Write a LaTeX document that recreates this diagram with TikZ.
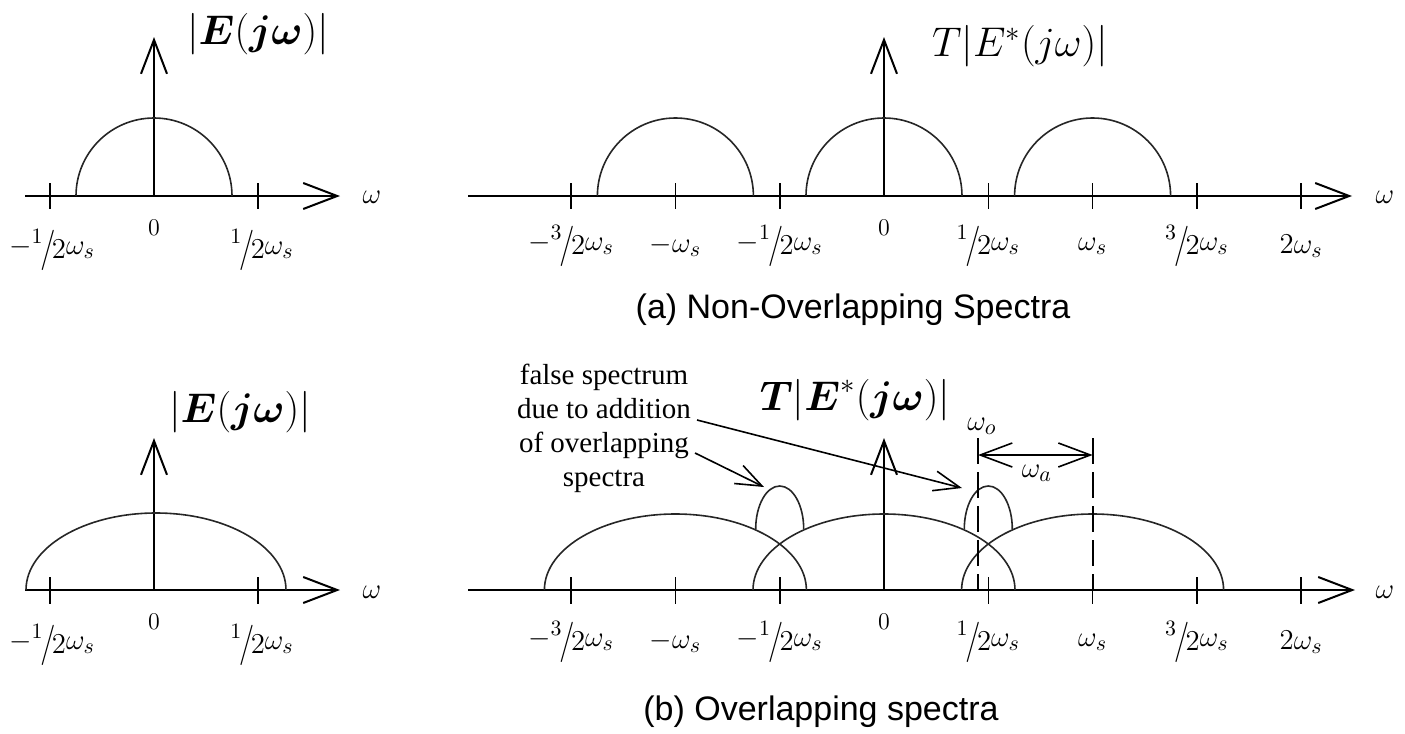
\documentclass[tikz,border=0pt]{standalone}
\usepackage{amsmath}
\usepackage{graphicx}
\usepackage{fontspec}
\setmainfont{Liberation Serif}
\newfontfamily\capfont{Liberation Sans}
\usetikzlibrary{arrows.meta}
% slashed half fraction as used on the axes
\newcommand{\hfr}[2]{\raisebox{0.75ex}{$\scriptstyle #1$}\kern-0.08em\raisebox{-0.45ex}{\scalebox{1.1}[1.4]{$/$}}\kern-0.12em\raisebox{-0.3ex}{$#2$}}
\begin{document}
\begin{tikzpicture}[x=0.5pt, y=-0.5pt,
    axis/.style={line width=1pt, -{Straight Barb[length=17pt, width=13pt, line width=1pt]}},
    spec/.style={line width=0.8pt, black!85},
    tick/.style={line width=0.8pt},
    lbl/.style={font=\fontsize{15}{17}\selectfont, inner sep=1pt},
    zero/.style={font=\fontsize{12}{14}\selectfont, inner sep=1pt},
    ttl/.style={font=\fontsize{20}{24}\selectfont, inner sep=1pt},
    captxt/.style={font=\capfont\fontsize{17}{20}\selectfont},
    note/.style={font=\fontsize{14.5}{17}\selectfont, align=center, inner sep=1pt},
    pointer/.style={line width=0.8pt, -{Straight Barb[length=13pt, width=10pt, line width=0.8pt]}},
    guide/.style={line width=0.9pt, dash pattern=on 13pt off 4pt}]
    \useasboundingbox (0,0) rectangle (1405,734);
    % (a) top left: |E(jw)|
    \coordinate (o1) at (154,196);
    \coordinate (x1a) at (25,196);
    \coordinate (x1b) at (340,196);
    \coordinate (y1) at (154,37);
    \draw [axis] (x1a) -- (x1b);
    \draw [axis] (o1) -- (y1);
    \foreach \x in {50,258}
        \draw [tick] (\x,183) -- (\x,209);
    \draw [spec] (76,196) arc[start angle=180, end angle=0, radius=39pt];
    \node (e1) [ttl] at (258,34) {$|\boldsymbol{E}(\boldsymbol{j\omega})|$};
    \node (w1) [lbl] at (372,197) {$\omega$};
    \node (z1) [zero] at (154,228) {$0$};
    \node (m1) [lbl] at (52,250) {$-\hfr12\omega_s$};
    \node (p1) [lbl] at (262,250) {$\hfr12\omega_s$};
    % (a) top right: T|E*(jw)|
    \coordinate (o2) at (884,196);
    \coordinate (x2a) at (468,196);
    \coordinate (x2b) at (1352,196);
    \coordinate (y2) at (884,37);
    \draw [axis] (x2a) -- (x2b);
    \draw [axis] (o2) -- (y2);
    \foreach \k in {-3,-2,-1,1,2,3,4}
        \draw [tick] ({884+104.3*(\k)},183) -- ({884+104.3*(\k)},209);
    \foreach \k in {-2,0,2}
        \draw [spec] ({884+104.3*(\k)-78},196) arc[start angle=180, end angle=0, radius=39pt];
    \node (e2) [ttl, font=\fontsize{22}{26}\selectfont] at (1020,46) {$T|E^{*}(j\omega)|$};
    \node (w2) [lbl] at (1385,197) {$\omega$};
    \node (z2) [zero] at (884,228) {$0$};
    \foreach \k/\t [count=\n] in {-3/{-\hfr32\omega_s}, -2/{-\omega_s}, -1/{-\hfr12\omega_s}, 1/{\hfr12\omega_s}, 2/{\omega_s}, 3/{\hfr32\omega_s}, 4/{2\omega_s}}
        \node (ta\n) [lbl] at ({884+104.3*(\k)},246) {$\t$};
    \node (capa) [captxt] at (853,310) {(a) Non-Overlapping Spectra};
    % (b) bottom left: |E(jw)|
    \coordinate (o3) at (154,590);
    \coordinate (x3a) at (25,590);
    \coordinate (x3b) at (340,590);
    \coordinate (y3) at (154,438);
    \draw [axis] (x3a) -- (x3b);
    \draw [axis] (o3) -- (y3);
    \foreach \x in {50,258}
        \draw [tick] (\x,577) -- (\x,604);
    \draw [spec] (26,590) arc[start angle=180, end angle=0, x radius=65pt, y radius=38.5pt];
    \node (e3) [ttl] at (240,412) {$|\boldsymbol{E}(\boldsymbol{j\omega})|$};
    \node (w3) [lbl] at (372,592) {$\omega$};
    \node (z3) [zero] at (154,622) {$0$};
    \node (m3) [lbl] at (52,645) {$-\hfr12\omega_s$};
    \node (p3) [lbl] at (262,645) {$\hfr12\omega_s$};
    % (b) bottom right: overlapping copies
    \coordinate (o4) at (884,590);
    \coordinate (x4a) at (468,590);
    \coordinate (x4b) at (1355,590);
    \coordinate (y4) at (884,438);
    \draw [axis] (x4a) -- (x4b);
    \draw [axis] (o4) -- (y4);
    \foreach \k in {-3,-2,-1,1,2,3,4}
        \draw [tick] ({884+104.3*(\k)},577) -- ({884+104.3*(\k)},604);
    \foreach \k in {-2,0,2}
        \draw [spec] ({884+104.3*(\k)-131},590) arc[start angle=180, end angle=0, x radius=65.5pt, y radius=38pt];
    \foreach \k in {-1,1}
        \draw [spec] ({884+104.3*(\k)-24},529) arc[start angle=180, end angle=0, x radius=12pt, y radius=21.5pt];
    \node (e4) [ttl] at (855,400) {$\boldsymbol{T}|\boldsymbol{E}^{*}(\boldsymbol{j\omega})|$};
    \node (w4) [lbl] at (1385,592) {$\omega$};
    \node (z4) [zero] at (884,622) {$0$};
    \foreach \k/\t [count=\n] in {-3/{-\hfr32\omega_s}, -2/{-\omega_s}, -1/{-\hfr12\omega_s}, 1/{\hfr12\omega_s}, 2/{\omega_s}, 3/{\hfr32\omega_s}, 4/{2\omega_s}}
        \node (tb\n) [lbl] at ({884+104.3*(\k)},642) {$\t$};
    % aliasing marks
    \coordinate (wo) at (978,438);
    \coordinate (wob) at (978,590);
    \coordinate (ws) at (1092.6,438);
    \coordinate (wsb) at (1092.6,590);
    \draw [guide] (wo) -- (wob);
    \draw [guide] (ws) -- (wsb);
    \coordinate (wa1) at (978,455);
    \coordinate (wa2) at (1092.6,455);
    \draw [line width=0.8pt, {Straight Barb[length=16pt, width=12pt, line width=0.8pt]}-{Straight Barb[length=16pt, width=12pt, line width=0.8pt]}] (wa1) -- (wa2);
    \node (lwo) [lbl] at (982,426) {$\omega_o$};
    \node (lwa) [lbl] at (1037,473) {$\omega_a$};
    \node (fs) [note] at (604,428) {false spectrum\\due to addition\\of overlapping\\spectra};
    \coordinate (fs1) at (697,420);
    \coordinate (fs2) at (695,453);
    \coordinate (h1) at (764,487);
    \coordinate (h2) at (962,488);
    \draw [pointer] (fs1) -- (h2);
    \draw [pointer] (fs2) -- (h1);
    \node (capb) [captxt] at (821,712) {(b) Overlapping spectra};
\end{tikzpicture}
\end{document}
